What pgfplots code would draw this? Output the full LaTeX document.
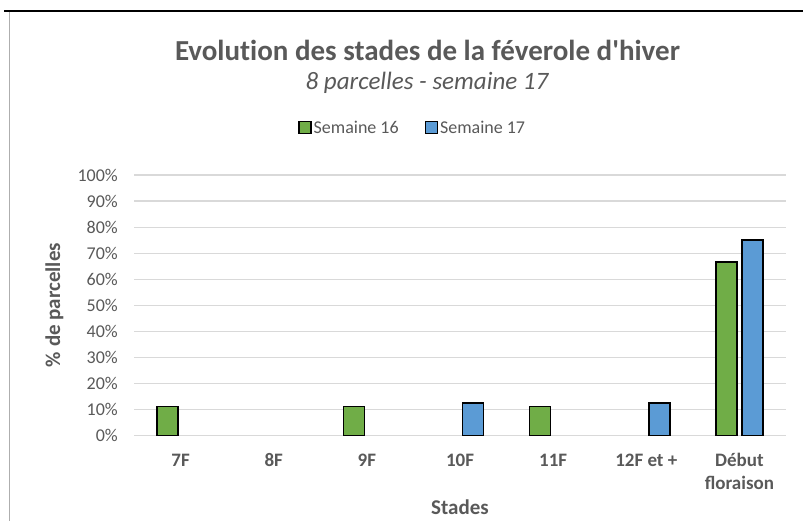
\documentclass[border=0pt]{standalone}
\usepackage{pgfplots}
\pgfplotsset{compat=1.18}
\usepackage{fontspec}
\setmainfont{Carlito}
\newfontfamily\titlefont{Carlito}[Ligatures=NoCommon]
\definecolor{txt}{HTML}{595959}
\definecolor{grd}{HTML}{D9D9D9}
\definecolor{sgreen}{HTML}{70AD47}
\definecolor{sblue}{HTML}{5B9BD5}
\newcommand{\xs}{\rule{0pt}{14bp}}
\begin{document}
\begin{tikzpicture}
\useasboundingbox (0,0) rectangle (803bp,-521bp);
\draw[black,line width=1.6bp] (4bp,-11bp) -- (803bp,-11bp);
\draw[grd!80!black,line width=1bp] (9.5bp,-11.8bp) -- (9.5bp,-521bp);
\node[anchor=base,text=txt,font=\fontsize{29bp}{34bp}\selectfont\titlefont\bfseries] at (427.5bp,-60bp) {Evolution des stades de la féverole d'hiver};
\node[anchor=base,text=txt,font=\fontsize{25bp}{29bp}\selectfont\itshape] at (427bp,-89bp) {8 parcelles - semaine 17};
\begin{axis}[
  at={(134bp,-435.5bp)}, anchor=south west,
  scale only axis, width=652bp, height=260.5bp,
  xmin=-0.5, xmax=6.5, ymin=0, ymax=1,
  ybar=5bp, bar width=21bp,
  axis line style={draw=none},
  major tick length=0pt,
  ymajorgrids, grid style={grd, line width=1.2bp},
  ytick={0,0.1,0.2,0.3,0.4,0.5,0.6,0.7,0.8,0.9,1},
  yticklabels={0\%,10\%,20\%,30\%,40\%,50\%,60\%,70\%,80\%,90\%,100\%},
  xtick={0,1,2,3,4,5,6},
  xticklabels={\xs 7F,\xs 8F,\xs 9F,\xs 10F,\xs 11F,\xs 12F et +,{\xs Début\\floraison}},
  xticklabel style={anchor=north, inner sep=0pt, yshift=-17bp, align=center, font=\fontsize{19bp}{22.6bp}\selectfont\bfseries, text=txt},
  yticklabel style={anchor=east, inner sep=0pt, xshift=-16bp, font=\fontsize{18bp}{20bp}\selectfont, text=txt},
  legend style={at={(0.4275,1.18)}, anchor=center, draw=none, fill=none, legend columns=-1,
    font=\fontsize{18bp}{20bp}\selectfont, text=txt,
    /tikz/every even column/.append style={column sep=24bp}},
  legend image code/.code={\draw[#1, line width=1.3bp] (-4bp,-5.5bp) rectangle (8bp,6.5bp);},
]
\addplot[fill=sgreen, draw=black, line width=1.6bp] coordinates {(0,0.111) (2,0.111) (4,0.111) (6,0.667)};
\addplot[fill=sblue, draw=black, line width=1.6bp] coordinates {(3,0.125) (5,0.125) (6,0.75)};
\legend{Semaine 16, Semaine 17}
\end{axis}
\node[rotate=90,anchor=base,text=txt,font=\fontsize{21bp}{24bp}\selectfont\bfseries] at (60bp,-305bp) {\% de parcelles};
\node[anchor=base,inner sep=0pt,text=txt,font=\fontsize{21bp}{24bp}\selectfont\bfseries] at (460bp,-514bp) {Stades};
\end{tikzpicture}
\end{document}
